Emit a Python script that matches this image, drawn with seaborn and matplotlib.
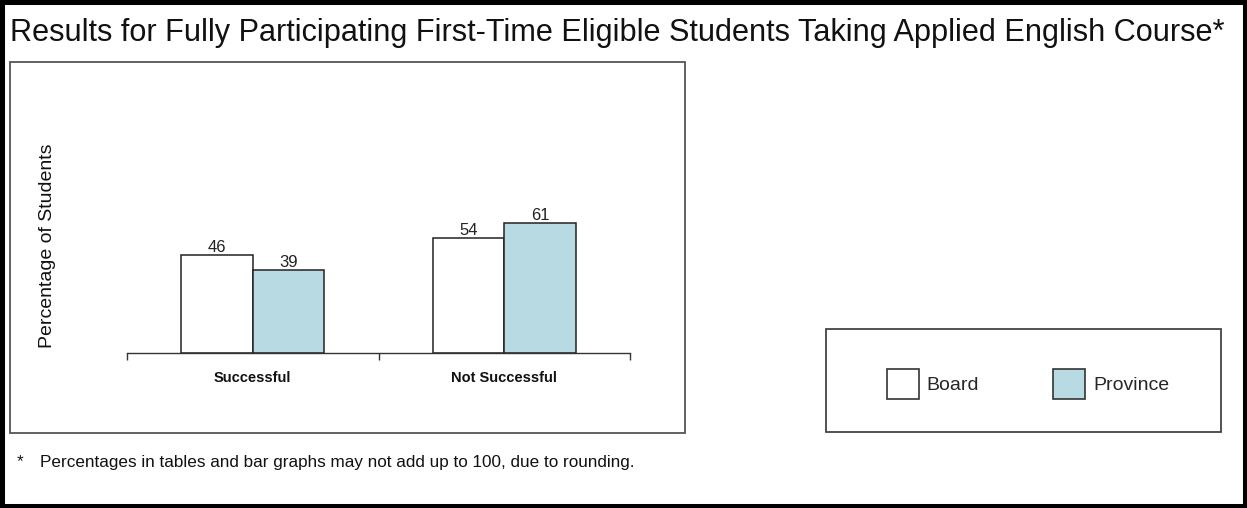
import matplotlib
matplotlib.use("Agg")
import matplotlib.pyplot as plt
from matplotlib.patches import Rectangle
import seaborn as sns
import pandas as pd

categories = ["Successful", "Not Successful"]
groups = ["Board", "Province"]
board_values = [46, 54]
province_values = [39, 61]
title_text = "Results for Fully Participating First-Time Eligible Students Taking Applied English Course*"
ylabel_text = "Percentage of Students"
footnote_text = "Percentages in tables and bar graphs may not add up to 100, due to rounding."

df = pd.DataFrame({
    "category": categories * 2,
    "group": [groups[0]] * len(categories) + [groups[1]] * len(categories),
    "value": board_values + province_values,
})

sns.set_theme(style="white")
plt.rcParams["font.family"] = ["Liberation Sans", "DejaVu Sans"]

W, H = 1247, 508
fig = plt.figure(figsize=(W / 100, H / 100), dpi=100)

def fx(px):
    return px / W

def fy(py):
    return 1 - py / H

ax = fig.add_axes([fx(127), fy(353), fx(630) - fx(127), fy(140) - fy(353)])

palette = {"Board": "#FFFFFF", "Province": "#B8DBE3"}
sns.barplot(data=df, x="category", y="value", hue="group", order=categories,
            hue_order=groups, palette=palette, width=0.57, ax=ax,
            edgecolor="#222222", linewidth=1.1, saturation=1)

ax.set_xlim(-0.5, 1.5)
ax.set_ylim(0, 100)
for s in ["top", "right", "left"]:
    ax.spines[s].set_visible(False)
ax.spines["bottom"].set_color("#333333")
ax.spines["bottom"].set_linewidth(1.0)
ax.set_yticks([])
ax.set_xlabel("")
ax.set_ylabel("")

ax.set_xticks([0, 1])
ax.set_xticklabels(categories, fontsize=10.5, fontweight="bold", color="#111111")
ax.tick_params(axis="x", which="major", length=0, pad=13)
ax.set_xticks([-0.5, 0.5, 1.5], minor=True)
ax.tick_params(axis="x", which="minor", length=5, width=1.0, color="#333333", direction="out", bottom=True)

for container in ax.containers:
    ax.bar_label(container, fontsize=12, padding=0, color="#222222")

handles, labels = ax.get_legend_handles_labels()
if ax.get_legend() is not None:
    ax.get_legend().remove()

fig.text(fx(48), fy(246), ylabel_text, rotation=90, ha="center", va="center", fontsize=14, color="#111111")

fig.text(fx(10), fy(33), title_text, ha="left", va="center", fontsize=22.1, color="#111111")

fig.text(fx(17), fy(462), "*", ha="left", va="center", fontsize=12.3, color="#111111")
fig.text(fx(40), fy(462), footnote_text, ha="left", va="center", fontsize=12.3, color="#111111")

# inner chart box
fig.add_artist(Rectangle((fx(10), fy(433)), fx(685) - fx(10), fy(62) - fy(433),
                         transform=fig.transFigure, fill=False, edgecolor="#555555", linewidth=1.3))
# legend box
fig.add_artist(Rectangle((fx(826), fy(432)), fx(1221) - fx(826), fy(329) - fy(432),
                         transform=fig.transFigure, fill=False, edgecolor="#444444", linewidth=1.3))

leg = fig.legend(handles, labels, loc="center", bbox_to_anchor=(fx(1028), fy(384)),
                 ncol=2, frameon=False, fontsize=14, handlelength=1.65, handleheight=1.95,
                 handletextpad=0.4, columnspacing=3.8)
for p in leg.get_patches():
    p.set_edgecolor("#333333")
    p.set_linewidth(1.2)

# outer black border
fig.add_artist(Rectangle((0, 0), 1, 1, transform=fig.transFigure, fill=False,
                         edgecolor="black", linewidth=6.5, clip_on=False))

fig.savefig("out.png", dpi=100)
